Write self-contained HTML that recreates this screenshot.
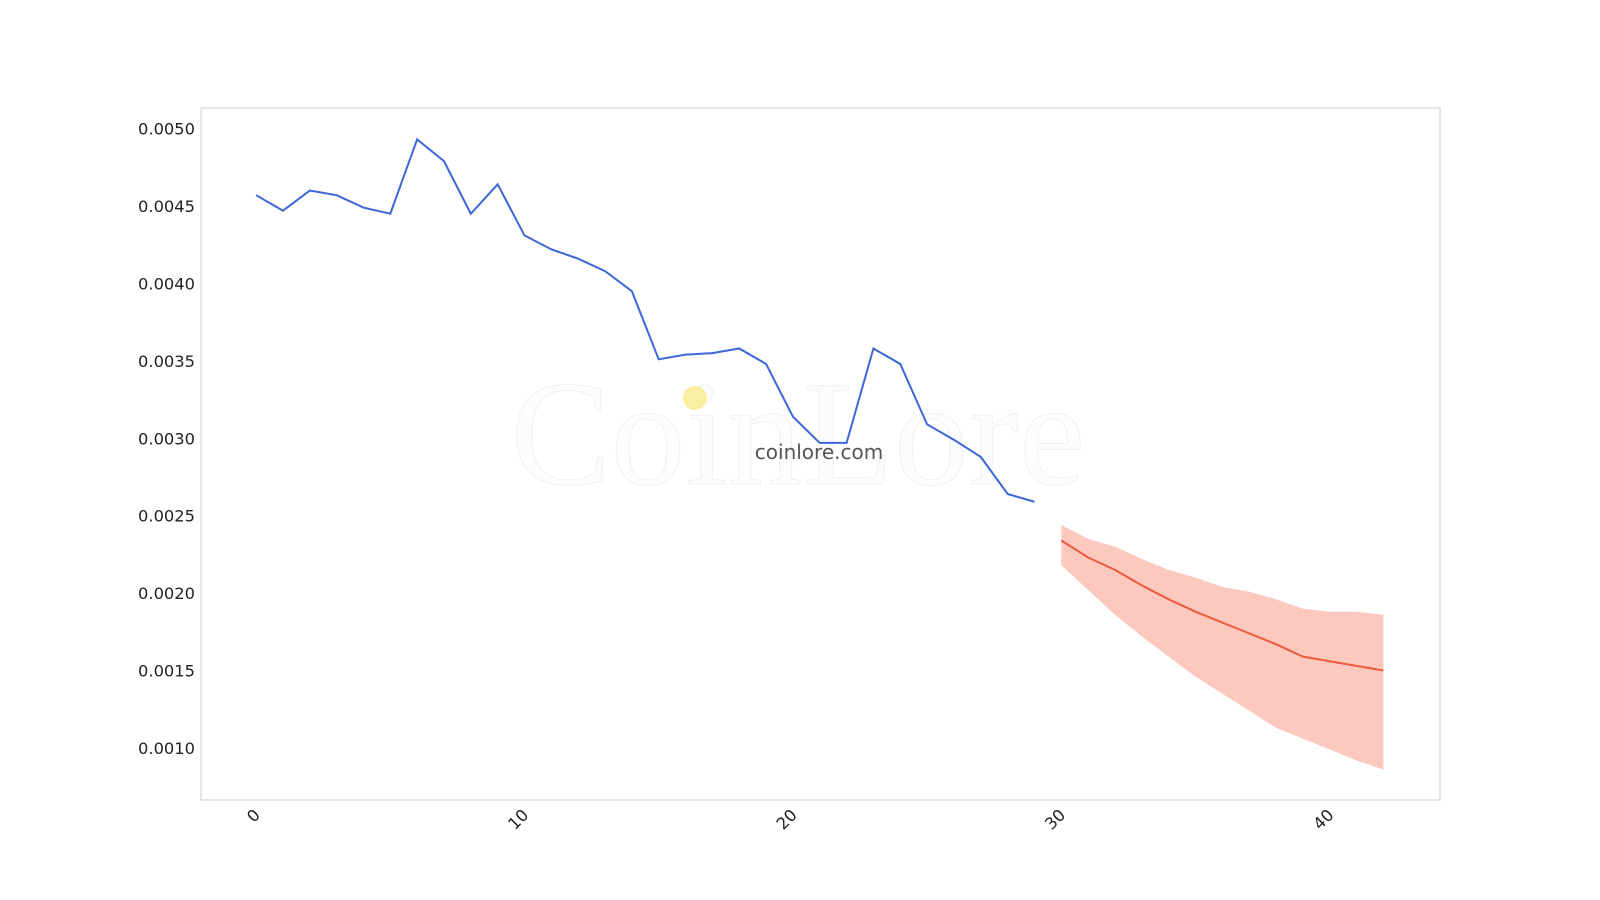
<!DOCTYPE html>
<html><head><meta charset="utf-8"><style>
body{margin:0;background:#fff;}
svg{display:block;font-family:"DejaVu Sans","Liberation Sans",sans-serif;}
</style></head><body>
<svg id="chart" width="1600" height="900">
<rect x="201" y="108" width="1239" height="692" fill="#fff" stroke="#ccc"/>
<text x="798" y="484" font-family="Liberation Serif,serif" font-size="150" fill="#fcfcfc" stroke="#f0f0f0" stroke-width="1" text-anchor="middle">CoinLore</text>
<circle cx="695" cy="398" r="12" fill="#fbeea0"/>
<text x="819" y="459" font-size="20" fill="#555" text-anchor="middle">coinlore.com</text>
<g id="yt"></g><g id="xt"></g><g id="marks"></g>
</svg>
<script>
const histValues=[0.00457,0.00447,0.00460,0.00457,0.00449,0.00445,0.00493,0.00479,0.00445,0.00464,0.00431,0.00422,0.00416,0.00408,0.00395,0.00351,0.00354,0.00355,0.00358,0.00348,0.00314,0.00297,0.00297,0.00358,0.00348,0.00309,0.00299,0.00288,0.00264,0.00259];
const fcStart=30;
const fcValues=[0.00234,0.00223,0.00215,0.00205,0.00196,0.00188,0.00181,0.00174,0.00167,0.00159,0.00156,0.00153,0.00150];
const fcUpper=[0.00244,0.00235,0.00230,0.00222,0.00215,0.00210,0.00204,0.00201,0.00196,0.00190,0.00188,0.00188,0.00186];
const fcLower=[0.00218,0.00202,0.00186,0.00172,0.00159,0.00146,0.00135,0.00124,0.00113,0.00106,0.00099,0.00092,0.00086];
const yTicks=[0.0010,0.0015,0.0020,0.0025,0.0030,0.0035,0.0040,0.0045,0.0050];
const xTicks=[0,10,20,30,40];
const NS="http://www.w3.org/2000/svg";
const X=i=>256.1+i*26.84;
const Y=v=>128.6+(0.0050-v)/0.0005*77.42;
function mk(t,a,p){const e=document.createElementNS(NS,t);for(const k in a)e.setAttribute(k,a[k]);p.appendChild(e);return e;}
const yt=document.getElementById('yt'),xt=document.getElementById('xt'),m=document.getElementById('marks');
yTicks.forEach(v=>{const t=mk('text',{x:195,y:Y(v)+6,'font-size':16.3,fill:'#222','text-anchor':'end'},yt);t.textContent=v.toFixed(4);

});
xTicks.forEach(v=>{const x=X(v);const t=mk('text',{x:x+5,y:816,'font-size':16.3,fill:'#222','text-anchor':'end',transform:`rotate(-45 ${x+5} 816)`},xt);t.textContent=v;

});
let up=fcUpper.map((v,i)=>X(fcStart+i)+','+Y(v));
let lo=fcLower.map((v,i)=>X(fcStart+i)+','+Y(v)).reverse();
const band=mk('polygon',{points:up.concat(lo).join(' '),fill:'#fdc9bf',stroke:'none'},m);


const hl=mk('polyline',{points:histValues.map((v,i)=>X(i)+','+Y(v)).join(' '),fill:'none',stroke:'#3d66d8','stroke-width':2},m);


const fl=mk('polyline',{points:fcValues.map((v,i)=>X(fcStart+i)+','+Y(v)).join(' '),fill:'none',stroke:'#f05a3c','stroke-width':2},m);


</script>
</body></html>
